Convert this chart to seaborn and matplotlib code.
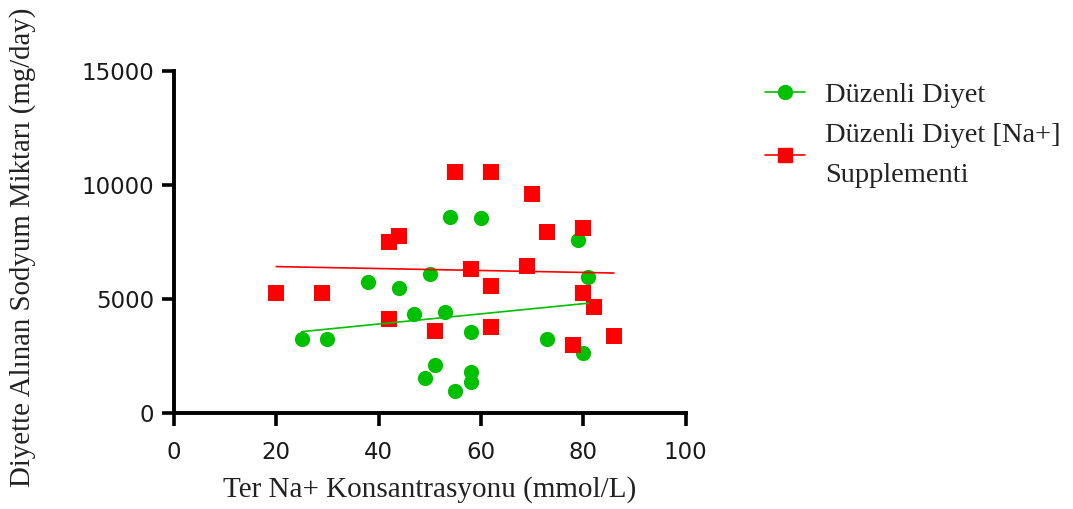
import numpy as np
import pandas as pd
import matplotlib
matplotlib.use('Agg')
import matplotlib.pyplot as plt
import seaborn as sns
from matplotlib.lines import Line2D

# data
duzenli_x = [25, 30, 38, 44, 47, 50, 53, 51, 49, 54, 60, 58, 58, 58, 55, 73, 79, 81, 80]
duzenli_y = [3230, 3230, 5750, 5480, 4330, 6100, 4440, 2100, 1550, 8580, 8570, 3540, 1790, 1350, 980, 3230, 7590, 5950, 2650]

supp_x = [20, 29, 42, 44, 42, 51, 55, 62, 58, 62, 62, 69, 70, 73, 78, 80, 80, 82, 86]
supp_y = [5250, 5250, 7510, 7760, 4120, 3600, 10580, 10580, 6320, 5570, 3780, 6450, 9600, 7950, 2980, 8130, 5250, 4660, 3380]

labels = ['Düzenli Diyet', 'Düzenli Diyet [Na+]\nSupplementi']
colors = ['#00C000', '#FF0000']

df = pd.DataFrame({
    'x': duzenli_x + supp_x,
    'y': duzenli_y + supp_y,
    'grup': [labels[0]] * len(duzenli_x) + [labels[1]] * len(supp_x),
})

sns.set_style('ticks')
plt.rcParams['font.family'] = ['DejaVu Sans']
serif = ['Liberation Serif', 'DejaVu Serif']

fig = plt.figure(figsize=(10.73, 5.09), dpi=100)
ax = fig.add_axes([0.162, 0.1886, 0.477, 0.672])

# regression lines
for lab, col in zip(labels, colors):
    sub = df[df['grup'] == lab]
    sns.regplot(data=sub, x='x', y='y', ax=ax, scatter=False, ci=None,
                color=col, line_kws={'linewidth': 1.2})

sns.scatterplot(data=df[df['grup'] == labels[0]], x='x', y='y', ax=ax,
                color=colors[0], marker='o', s=120, linewidth=0, legend=False)
sns.scatterplot(data=df[df['grup'] == labels[1]], x='x', y='y', ax=ax,
                color=colors[1], marker='s', s=130, linewidth=0, legend=False)

ax.set_xlim(0, 100)
ax.set_ylim(0, 15000)
ax.set_xticks([0, 20, 40, 60, 80, 100])
ax.set_yticks([0, 5000, 10000, 15000])
ax.tick_params(labelsize=16.5, width=2.6, length=9, pad=5, color='black', labelcolor='#1a1a1a')
ax.tick_params(axis='x', pad=11)
for side in ['left', 'bottom']:
    ax.spines[side].set_linewidth(2.8)
    ax.spines[side].set_color('black')
sns.despine(ax=ax)

ax.set_xlabel('Ter Na+ Konsantrasyonu (mmol/L)', fontsize=21, family=serif, color='#222222')
ax.set_ylabel('Diyette Alınan Sodyum Miktarı (mg/day)', fontsize=20.8, family=serif, color='#222222')
ax.xaxis.set_label_coords(0.5, -0.185)
ax.yaxis.set_label_coords(-0.27, 0.485)

handles = [
    Line2D([], [], color=colors[0], marker='o', markersize=10, linewidth=1.2),
    Line2D([], [], color=colors[1], marker='s', markersize=10, linewidth=1.2),
]
leg = fig.legend(handles, labels, loc='upper left', bbox_to_anchor=(0.689, 0.889),
                 frameon=False, prop={'family': serif, 'size': 20.5},
                 handlelength=1.4, labelspacing=0.52, handletextpad=0.7)
for t in leg.get_texts():
    t.set_linespacing(1.8)
    t.set_color('#222222')

fig.savefig('out.png', dpi=100)
